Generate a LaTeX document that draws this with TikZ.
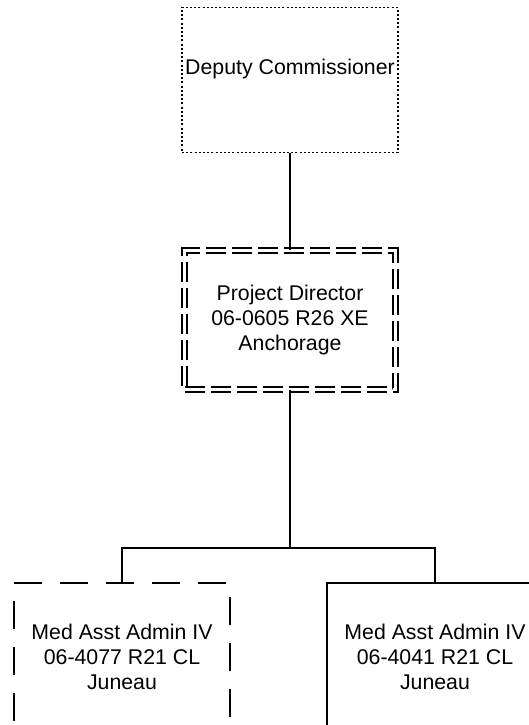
\documentclass[tikz,border=0pt]{standalone}
\usepackage{fontspec}
\setmainfont{Liberation Sans}
\begin{document}
\begin{tikzpicture}[x=1pt, y=-1pt, line width=1.2pt,
  box/.style={rectangle, minimum width=216pt, align=center, inner sep=0pt,
    font=\fontsize{21.3}{25}\selectfont},
  dotbox/.style={box, draw, dash pattern=on 2pt off 2.2pt, minimum height=145pt},
  dashbox/.style={box, draw, dash pattern=on 28pt off 18pt, minimum height=148pt},
  twinbox/.style={box, draw, double, double distance=3.8pt, dash pattern=on 20pt off 6pt,
    minimum width=211pt, minimum height=139pt},
  plainbox/.style={box, draw, minimum height=148pt}]
% Page size of the chart
\useasboundingbox (0,0) rectangle (529,725);

% Boxes
\node[dotbox] (dc) at (290,80) {};
\node[box] (dcText) at ([yshift=11pt]dc.center) {Deputy Commissioner};
\node[twinbox] (pd) at (290,320) {Project Director\\06-0605 R26 XE\\Anchorage};
\node[dashbox] (maLeft) at (122,657) {Med Asst Admin IV\\06-4077 R21 CL\\Juneau};
\node[plainbox] (maRight) at (435,657) {Med Asst Admin IV\\06-4041 R21 CL\\Juneau};

% Lines between boxes
\coordinate (bar) at (290,548);
\draw (dc.south) -- (pd.north);
\draw (pd.south) -- (bar);
\draw (maLeft.north) |- (bar) -| (maRight.north);
\end{tikzpicture}
\end{document}
